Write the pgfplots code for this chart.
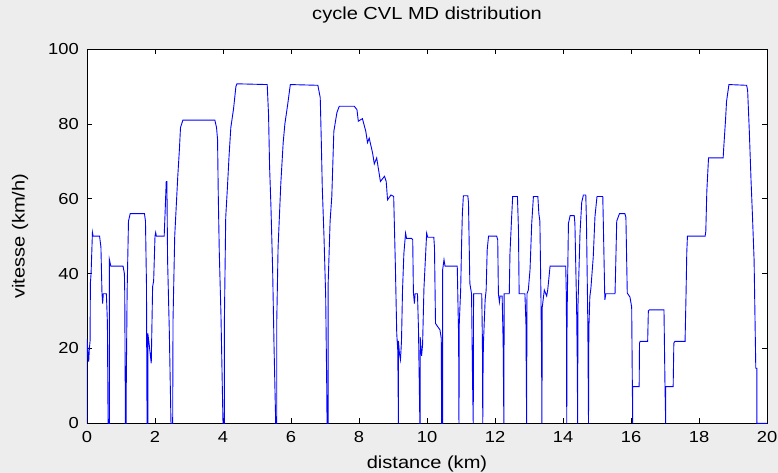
\documentclass[border=0pt]{standalone}
\usepackage{fontspec}
\setmainfont{Liberation Sans}[FakeStretch=1.15]
\usepackage{pgfplots}
\pgfplotsset{compat=1.18}

\begin{document}
\begin{tikzpicture}
\useasboundingbox[fill=black!7] (-87bp,-49.7bp) rectangle (691bp,423.3bp);
\begin{axis}[
    at={(0,0)}, anchor=south west,
    scale only axis,
    width=680bp, height=374.3bp,
    xmin=0, xmax=20, ymin=0, ymax=100,
    xtick={0,2,...,20}, ytick={0,20,...,100},
    tick align=inside,
    major tick length=5bp,
    tick style={black, line width=0.6bp},
    axis line style={black, line width=0.9bp},
    axis background/.style={fill=white},
    /pgf/number format/assume math mode=true,
    ticklabel style={font=\fontsize{16}{18}\selectfont, inner sep=0pt},
    xticklabel style={anchor=center, yshift=-13.5bp},
    yticklabel style={anchor=east, xshift=-8bp},
    title={cycle CVL MD distribution},
    title style={font=\fontsize{17.5}{20}\selectfont, at={(axis description cs:0.5,1.075)}, anchor=center},
    xlabel={distance (km)},
    xlabel style={font=\fontsize{17.5}{20}\selectfont, at={(axis description cs:0.5,-0.1088)}, anchor=center},
    ylabel={vitesse (km/h)},
    ylabel style={font=\fontsize{17.5}{20}\selectfont, at={(axis description cs:-0.0985,0.5)}, anchor=center},
]
% cycle CVL MD : vitesse en fonction de la distance
\addplot[color={rgb,255:red,0;green,0;blue,255}, line width=0.9bp] coordinates {
(0,0) (0,22.5) (0.02,20) (0.05,16.5) (0.07,20) (0.09,22) (0.10,37.5) (0.12,40) (0.16,51) (0.18,50) (0.37,50) (0.41,47) (0.44,35) (0.46,32) (0.48,34.6) (0.57,34.6) (0.60,27) (0.62,0)
(0.66,0) (0.66,43.7) (0.70,42) (1.06,42) (1.10,40) (1.11,35) (1.13,0)
(1.15,0) (1.15,5) (1.18,35) (1.22,54) (1.27,56) (1.69,56) (1.72,54) (1.75,36.5) (1.76,9) (1.77,0)
(1.79,0) (1.79,24) (1.83,21) (1.89,16) (1.93,36.5) (1.96,38) (2.00,50) (2.02,51) (2.04,50) (2.27,50) (2.30,57) (2.33,64.6) (2.35,64.6) (2.37,43.7) (2.42,25) (2.47,0)
(2.52,0) (2.53,27.6) (2.58,50) (2.67,66) (2.72,73.5) (2.75,79) (2.82,81) (3.76,81) (3.81,79) (3.84,75.8) (3.86,61.5) (3.89,46) (3.94,29) (4.00,0)
(4.04,0) (4.04,26.7) (4.08,55) (4.13,63) (4.18,71.7) (4.23,79) (4.31,84) (4.38,90) (4.41,90.7) (5.30,90.5) (5.34,82.4) (5.37,68.6) (5.41,58) (5.46,41) (5.50,21) (5.55,0)
(5.58,0) (5.58,26.7) (5.62,47) (5.70,64) (5.77,75) (5.82,80) (5.90,85) (5.98,90.5) (6.79,90.3) (6.86,87) (6.89,75.8) (6.92,63) (6.97,50) (7.02,34) (7.05,10.7) (7.06,0)
(7.09,0) (7.09,36.5) (7.15,54) (7.20,60.6) (7.26,78) (7.35,83) (7.42,84.7) (7.86,84.7) (7.94,83.8) (7.98,80.7) (8.10,81.4) (8.20,78) (8.25,75) (8.30,76.2) (8.40,72.2) (8.45,69.3) (8.52,70.9) (8.63,64.6) (8.75,66) (8.80,64.6) (8.84,59.7) (8.94,61) (9.02,60.6) (9.07,42) (9.11,24) (9.14,19.5) (9.16,0)
(9.16,22) (9.19,18.6) (9.22,17) (9.25,22) (9.28,35.6) (9.32,45.4) (9.37,50.8) (9.40,49.4) (9.55,49.4) (9.58,49) (9.60,35) (9.63,32) (9.65,34.6) (9.72,34.6) (9.75,25) (9.79,0)
(9.80,0) (9.80,23) (9.84,18) (9.87,21) (9.91,36) (9.99,50.8) (10.02,49.7) (10.20,49.7) (10.22,47) (10.25,26.7) (10.30,26) (10.38,25) (10.42,22.7) (10.43,0)
(10.46,0) (10.46,41) (10.50,43.7) (10.53,42) (10.89,42) (10.92,27.6) (10.93,23) (10.94,0)
(10.95,27) (10.99,35.6) (11.02,49) (11.04,56) (11.07,60.8) (11.20,60.8) (11.22,59) (11.26,37.4) (11.31,34.6) (11.34,11.2) (11.36,0)
(11.37,34.6) (11.61,34.6) (11.63,21.4) (11.64,0)
(11.65,16) (11.66,21.4) (11.71,33) (11.74,35.6) (11.77,46.3) (11.81,50) (12.05,50) (12.08,49) (12.10,34.6) (12.13,32.4) (12.15,34) (12.21,34) (12.24,21.4) (12.26,0)
(12.27,34.6) (12.42,34.6) (12.44,45.4) (12.49,55.2) (12.52,60.6) (12.66,60.6) (12.69,51.7) (12.71,34.6) (12.88,34.6) (12.91,26.7) (12.93,0)
(12.94,34.6) (12.98,35.6) (13.03,41) (13.08,53.4) (13.13,60.6) (13.26,60.6) (13.29,56) (13.32,54) (13.35,34.6) (13.37,18.6) (13.38,0)
(13.39,31) (13.45,35.6) (13.52,34) (13.55,35.6) (13.62,42) (14.08,42) (14.10,33) (14.11,0)
(14.12,28.6) (14.16,53.4) (14.21,55.5) (14.33,55.5) (14.35,53.4) (14.40,31.2) (14.42,16) (14.43,0)
(14.44,31.2) (14.50,50.8) (14.55,59) (14.60,61) (14.67,61) (14.69,54) (14.73,26.7) (14.75,0)
(14.76,25) (14.79,33.9) (14.82,36) (14.89,44.5) (14.94,55.2) (15.00,60.6) (15.17,60.6) (15.19,51.7) (15.23,33) (15.26,34.6) (15.53,34.6) (15.55,42) (15.58,54) (15.66,56) (15.82,56) (15.85,55) (15.89,34.8) (15.97,33.7) (16.02,31) (16.04,9.5) (16.05,0)
(16.05,9.8) (16.24,9.8) (16.25,21.4) (16.27,21.9) (16.49,21.9) (16.51,30) (16.54,30.3) (16.97,30.3) (17.00,9.8) (17.02,0)
(17.02,9.8) (17.24,9.8) (17.26,21.4) (17.29,21.9) (17.59,21.9) (17.62,35) (17.64,45.5) (17.66,50) (18.18,50) (18.20,51.3) (18.23,62) (18.28,70.9) (18.71,70.9) (18.73,74) (18.78,81) (18.81,86) (18.88,90.5) (19.40,90.3) (19.43,89) (19.48,78) (19.53,65) (19.57,56) (19.62,43.7) (19.67,14.7) (19.70,14.7) (19.70,0) (20,0)
};
\end{axis}
\end{tikzpicture}
\end{document}
